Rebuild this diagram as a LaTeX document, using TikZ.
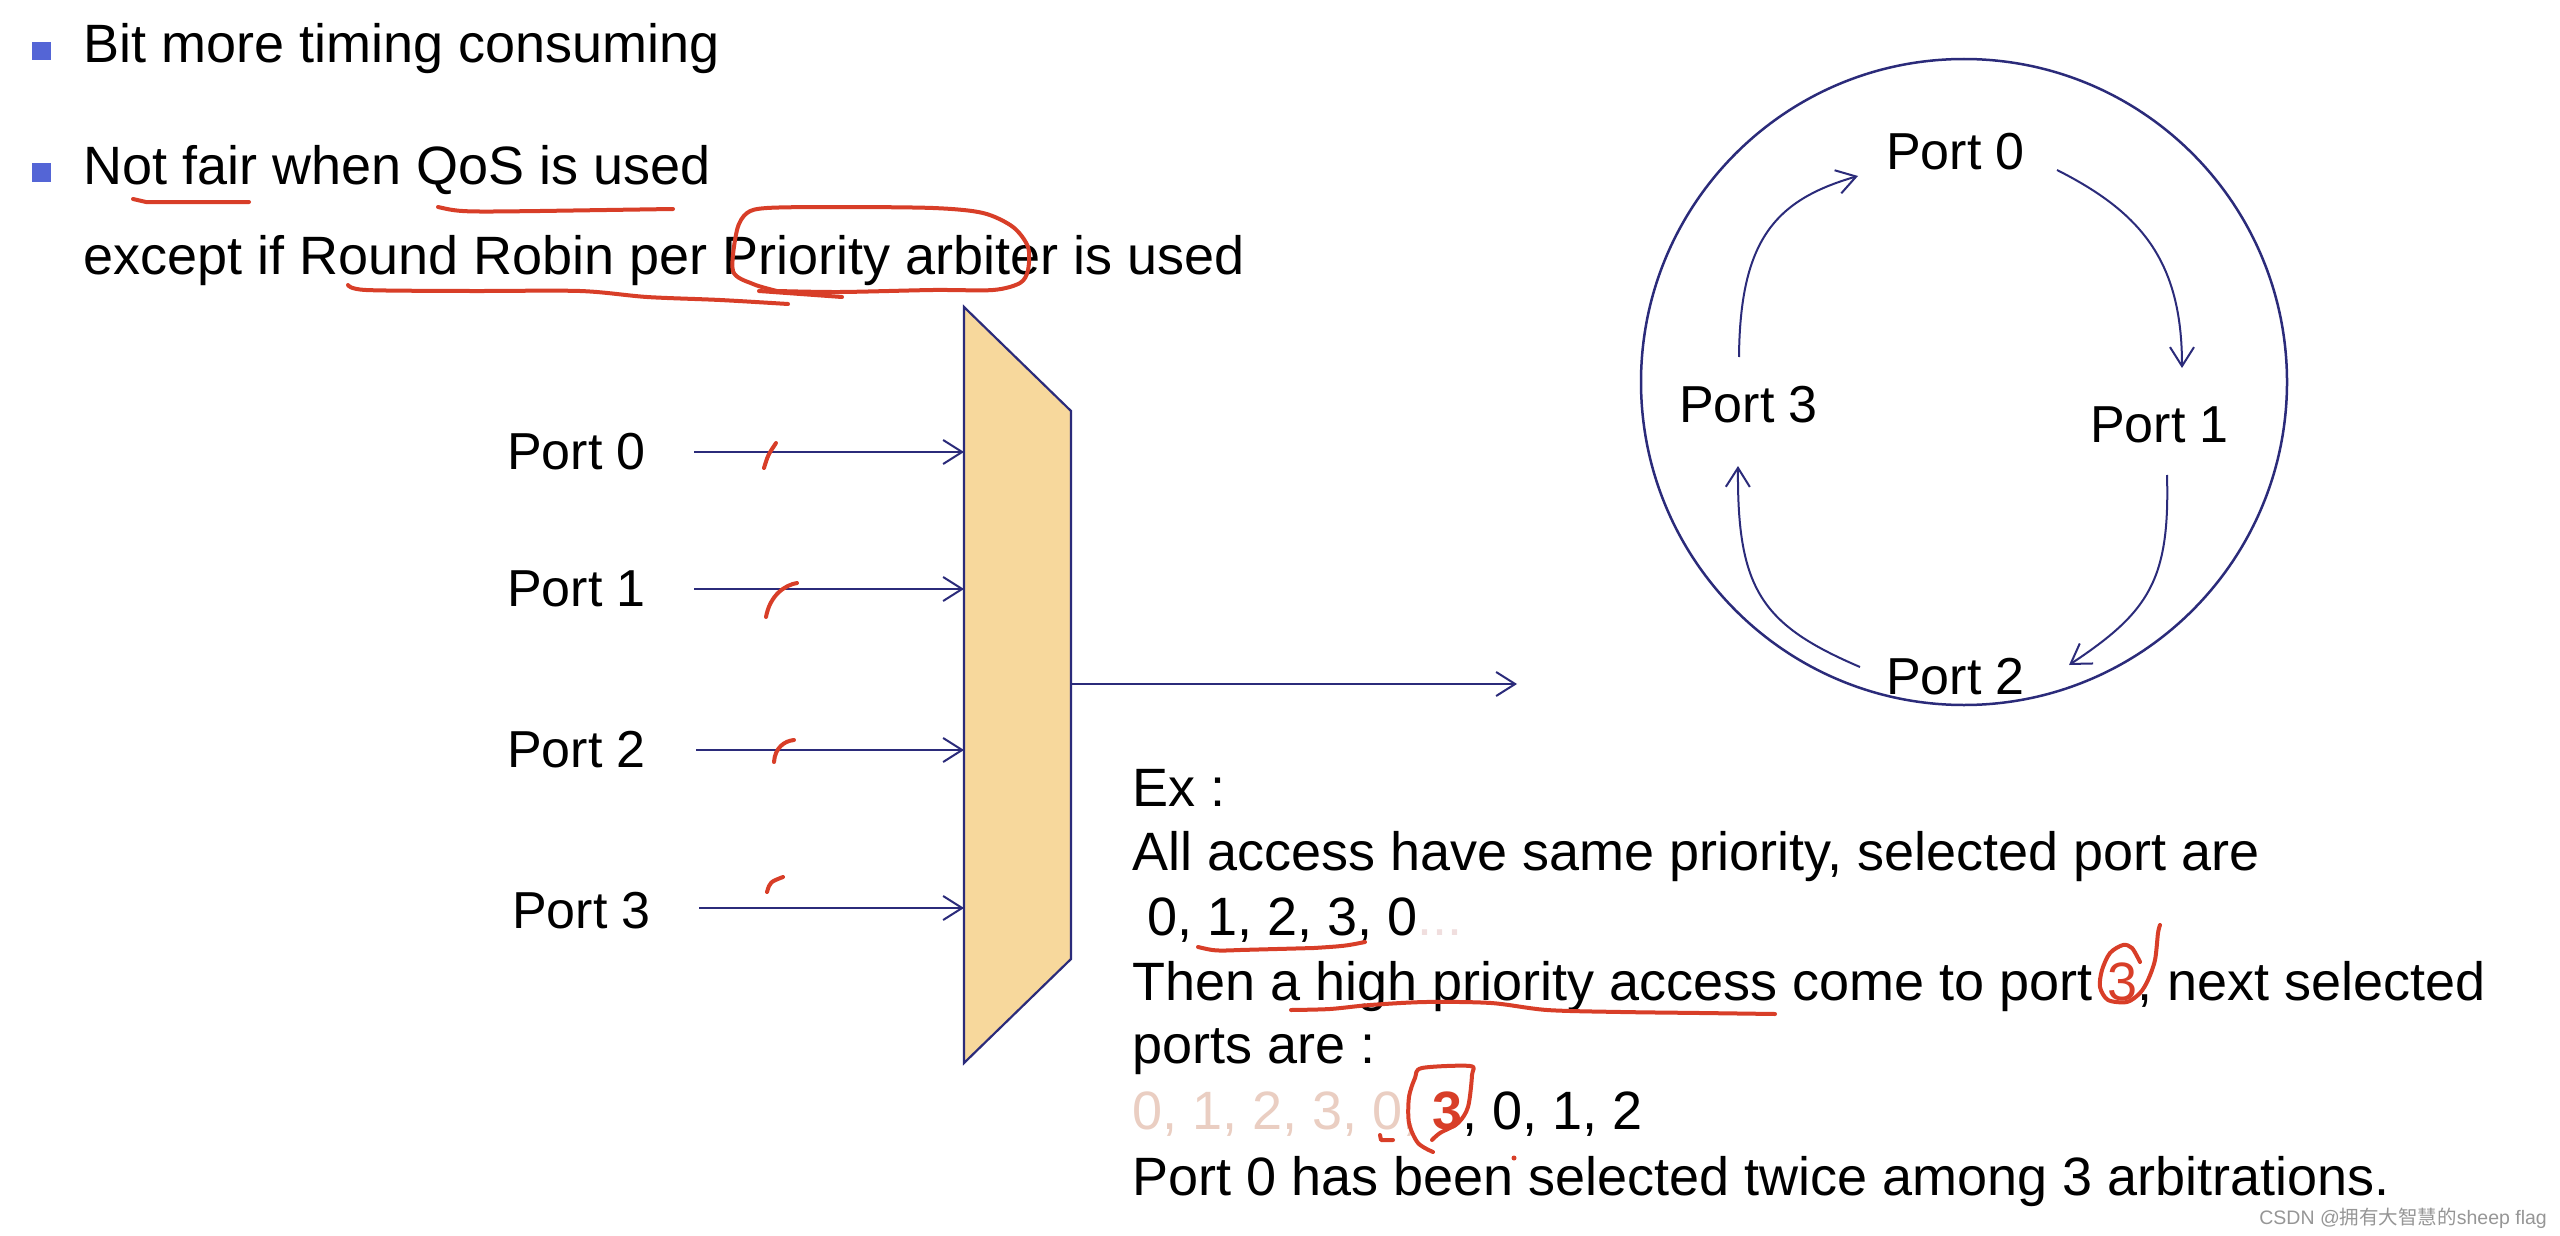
\documentclass[tikz,border=0pt]{standalone}
\usepackage{fontspec}
\setmainfont{Liberation Sans}
\newfontfamily\cjkfont{Noto Sans CJK SC}
\usetikzlibrary{arrows.meta}
\definecolor{navy}{RGB}{43,43,122}
\definecolor{bulletblue}{RGB}{84,101,214}
\definecolor{muxfill}{RGB}{247,216,156}
\definecolor{pen}{RGB}{216,62,40}
\definecolor{fade}{RGB}{234,206,194}
\definecolor{fadedots}{RGB}{240,222,222}
\definecolor{wm}{RGB}{150,150,150}
\begin{document}
\begin{tikzpicture}[x=1pt,y=-1pt,
  txt/.style={anchor=base west, inner sep=0pt, font=\fontsize{54}{65}\selectfont},
  lbl/.style={anchor=base west, inner sep=0pt, font=\fontsize{52}{62}\selectfont},
  wire/.style={draw=navy, line width=2pt, -{Straight Barb[length=19pt,width=24pt]}},
  ink/.style={draw=pen, line width=4pt, line cap=round, line join=round},
  bulletsq/.style={fill=bulletblue, draw=none}]
\fill[white] (0,0) rectangle (2560,1236);
\useasboundingbox (0,0) rectangle (2560,1236);

% bullets and top text
\fill[bulletsq] (32,42) rectangle (51,60);
\fill[bulletsq] (32,163) rectangle (51,182);
\node[txt] (b1) at (83,63) {Bit more timing consuming};
\node[txt] (b2) at (83,184) {Not fair when QoS is used};
\node[txt] (b3) at (83,274) {except if Round Robin per Priority arbiter is used};

% multiplexer
\coordinate (mTL) at (964,307);
\coordinate (mTR) at (1071,411);
\coordinate (mBR) at (1071,959);
\coordinate (mBL) at (964,1063);
\filldraw[fill=muxfill, draw=navy, line width=2.2pt, line join=miter] (mTL) -- (mTR) -- (mBR) -- (mBL) -- cycle;

% input labels and wires
\node[lbl] (l0) at (507,469) {Port 0};
\node[lbl] (l1) at (507,606) {Port 1};
\node[lbl] (l2) at (507,767) {Port 2};
\node[lbl] (l3) at (512,928) {Port 3};
\coordinate (s0) at (694,452);
\coordinate (s1) at (694,589);
\coordinate (s2) at (696,750);
\coordinate (s3) at (699,908);
\draw[wire] (s0) -- (s0 -| mTL);
\draw[wire] (s1) -- (s1 -| mTL);
\draw[wire] (s2) -- (s2 -| mTL);
\draw[wire] (s3) -- (s3 -| mTL);
\coordinate (o) at (1071,684);
\coordinate (oe) at (1517,684);
\draw[wire] (o) -- (oe);

% round robin circle
\coordinate (cc) at (1964,382);
\draw[navy, line width=2.5pt] (cc) circle (323);
\node[lbl] (c0) at (1886,170) {Port 0};
\node[lbl] (c1) at (2090,442) {Port 1};
\node[lbl] (c2) at (1886,694) {Port 2};
\node[lbl] (c3) at (1679,422) {Port 3};
\coordinate (a01s) at (2057,170);
\coordinate (a01e) at (2182,368);
\coordinate (a12s) at (2167,475);
\coordinate (a12e) at (2069,665);
\coordinate (a23s) at (1860,667);
\coordinate (a23e) at (1738,466);
\coordinate (a30s) at (1739,357);
\coordinate (a30e) at (1858,176);
\draw[wire] (a01s) .. controls (2140,212) and (2182,260) .. (a01e);
\draw[wire] (a12s) .. controls (2170,580) and (2149,612) .. (a12e);
\draw[wire] (a23s) .. controls (1762,625) and (1737,590) .. (a23e);
\draw[wire] (a30s) .. controls (1740,240) and (1775,200) .. (a30e);

% example text
\node[txt] (ex) at (1132,806) {Ex :};
\node[txt] (all) at (1132,870) {All access have same priority, selected port are};
\node[txt] (seqa) at (1132,935) {\ 0, 1, 2, 3, 0\textcolor{fadedots}{...}};
\node[txt] (then) at (1132,1000) {Then a high priority access come to port \textcolor{pen}{3}, next selected};
\node[txt] (ports) at (1132,1063) {ports are :};
\node[txt] (seqb) at (1132,1129) {\textcolor{fade}{0, 1, 2, 3, 0, }\textcolor{pen}{\bfseries 3}, 0, 1, 2};
\node[txt] (sum) at (1132,1195) {Port 0 has been selected twice among 3 arbitrations.};

% watermark
\node[anchor=base east, inner sep=0pt, font=\fontsize{19.5}{23}\selectfont, text=wm] (wmk) at (2547,1224) {CSDN @{\cjkfont 拥有大智慧的}sheep flag};

% red pen annotations (top)
\draw[ink] (133,199) -- (146,202) -- (249,202);
\draw[ink] (438,207) .. controls (460,212) .. (540,211) -- (673,209);
\draw[ink] plot[smooth] coordinates {(348,285) (366,290) (470,291) (580,291) (647,297) (720,300) (788,304)};
\draw[ink] (759,291) -- (842,297);
\draw[ink] plot[smooth] coordinates {(777,291) (753,284) (733,271) (737,230) (747,213) (767,208) (833,207) (933,208) (983,213) (1013,227) (1028,247) (1028,270) (1020,283) (993,290) (933,290) (840,292) (777,291)};

% ticks on inputs
\draw[ink] (764,468) .. controls (768,455) .. (776,443);
\draw[ink] (766,617) .. controls (770,595) and (785,585) .. (797,583);
\draw[ink] (774,762) .. controls (775,748) and (784,741) .. (794,740);
\draw[ink] (767,892) .. controls (770,882) .. (783,877);

% red pen annotations (bottom)
\draw[ink] (1198,947) .. controls (1215,951) .. (1240,950) -- (1314,948) .. controls (1345,946) .. (1365,942);
\draw[ink] plot[smooth] coordinates {(2140,962) (2132,948) (2123,945) (2110,953) (2102,970) (2100,987) (2108,1000) (2127,1002) (2140,993) (2148,980) (2155,960) (2158,933) (2160,925)};
\draw[ink] plot[smooth] coordinates {(1291,1010) (1330,1009) (1370,1005) (1426,1002) (1491,1003) (1547,1010) (1621,1012) (1700,1013) (1775,1014)};
\draw[ink] plot[smooth] coordinates {(1433,1152) (1418,1143) (1409,1123) (1409,1097) (1415,1078) (1422,1068) (1470,1066) (1472,1075) (1468,1107) (1458,1123) (1440,1133) (1432,1140)};
\draw[ink] (1380,1135) -- (1381,1140) -- (1393,1140);
\fill[pen] (1514,1158) circle (2.5);
\end{tikzpicture}
\end{document}
